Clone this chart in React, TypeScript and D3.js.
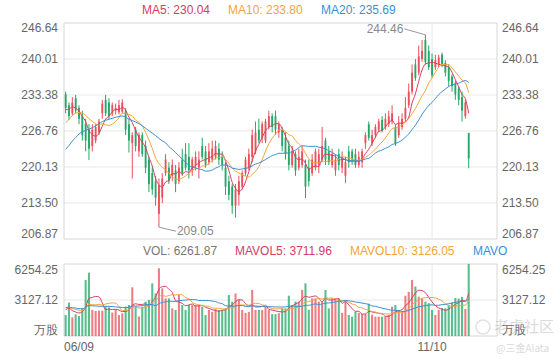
import React, { useEffect, useRef } from "react";
import * as d3 from "d3";

// daily k-line, 06/09 .. latest
const opens = [
  233.5, 231.5, 230, 232.8, 231, 229.5, 228, 227, 224, 225,
  226.5, 230, 232.5, 232, 230, 230.5, 230.2, 230.3, 230.5, 228,
  224.5, 227, 223, 226, 224, 221.5, 219, 217.5, 211.5, 214.5,
  219, 220, 218.5, 219.5, 217.5, 221.5, 222.5, 222, 219.5, 220.5,
  220, 224, 223, 221, 221.5, 222, 223.5, 222, 220, 217.5,
  216.5, 213, 215, 216.5, 219, 220, 222, 223, 227, 225.5,
  225, 227.5, 229.5, 229.5, 226.5, 227, 225.5, 224, 220.5, 222.5,
  220, 220.5, 220.5, 220, 219, 220, 220.5, 221.5, 225, 223,
  220.5, 219.5, 222.5, 220, 218.5, 223, 223, 222.5, 220.5, 221,
  224.5, 228, 224.5, 226, 227, 228.8, 227.5, 228, 228.5, 227.5,
  226, 227.5, 229, 231.5, 234, 239, 237.5, 240, 243.5, 241.5,
  240, 238.5, 239, 240.8, 239.3, 238.5, 236.8, 235.5, 234.5, 233,
  229.5, 226.4,
];
const highs = [
  234, 232, 233, 233.4, 231.5, 230.5, 229, 228, 228, 228,
  229, 232.5, 233.4, 232.8, 232, 231.8, 232.5, 232.6, 231, 229,
  226.5, 227.5, 226.5, 226.5, 225, 222, 220, 218.5, 218, 219,
  222.5, 221, 221.5, 220.5, 221, 223.5, 224.5, 224.5, 222, 223,
  223, 225.5, 224, 224.5, 225, 225, 224.5, 223, 221, 218.5,
  217, 217, 218.5, 219.5, 222, 223.5, 227, 228.5, 229, 228.5,
  229, 230.5, 230, 230.5, 228.5, 227.5, 226.5, 225, 224, 223,
  223.5, 224, 221.5, 221.5, 222.5, 223.5, 223.5, 227.5, 225.5, 224,
  223.5, 222.5, 223.5, 223, 222, 224, 223.5, 223.5, 223, 223.5,
  226.5, 228.5, 227, 228, 229, 229.5, 230, 230.5, 231.5, 228,
  229.5, 230, 233, 235.5, 239, 240, 242.5, 243.5, 244.46, 242.5,
  241, 240.8, 240.8, 241.2, 239.8, 239, 237.2, 236, 235, 234,
  232.5, 226.4,
];
const lows = [
  230, 228.8, 229.6, 230, 228, 225, 223, 221.4, 223, 224.5,
  226, 229, 229.5, 229, 229.5, 229.8, 229.8, 230, 226, 222.8,
  218, 223, 222, 222, 219, 215.5, 215, 213, 209.05, 213.5,
  218.5, 217, 217.5, 215.5, 217, 218.5, 219.5, 218, 218.5, 219.5,
  218, 221.5, 220, 220.5, 221, 221.5, 220.5, 219.5, 215, 214,
  211.5, 210.8, 213, 216, 218.5, 219.5, 221, 222.5, 224.5, 224.5,
  224.5, 227, 226.5, 226, 225.5, 223, 221.5, 219.5, 220, 218.5,
  219.5, 220, 214.4, 216.5, 218.5, 219.5, 219, 221, 220.5, 220.5,
  220, 218.5, 219.5, 219, 217.2, 220, 220.5, 220, 220, 220,
  223.5, 225, 224, 225.5, 226.5, 226.5, 227, 227.5, 228, 224,
  225.5, 227, 228.5, 231, 233.5, 236, 237, 239.5, 239, 238,
  236.5, 238, 238.5, 238.5, 236.8, 235, 234, 232.5, 231.5, 228.5,
  229, 219.9,
];
const closes = [
  231, 229.5, 232, 230.5, 229, 226, 225, 223.5, 227, 227.5,
  228.5, 231.8, 230, 229.5, 231.5, 231, 231.5, 232, 227, 225,
  226, 224, 226, 222.5, 220, 217, 216, 214.5, 216.8, 218,
  221.5, 217.5, 220.5, 217, 220, 219, 220, 219.5, 221.5, 222,
  221.5, 222, 220.5, 223, 223.5, 224, 221.5, 220.5, 216.5, 215,
  213, 216, 217.5, 219, 221.5, 222.5, 226, 226.5, 225, 228,
  228.5, 229.5, 227.5, 227, 228, 224, 222.5, 220.5, 223, 219.5,
  222, 223, 216.5, 217.5, 221.5, 223, 222.5, 224, 221.5, 221,
  222.5, 221.5, 220.5, 222, 221, 221, 221.5, 220.5, 222, 223,
  226, 225.5, 226, 227.5, 228.5, 226.8, 229, 229.5, 230, 224.5,
  228, 229, 231, 234, 237.5, 236.5, 240.5, 241.5, 239.5, 238.5,
  237, 239.8, 240.3, 239, 237.5, 236, 235, 233.5, 232.5, 230.5,
  232, 221.7,
];
// 万股
const volumes = [
  1820, 2900, 1620, 1880, 1740, 2400, 4860, 5500, 2260, 2170,
  2200, 2200, 2600, 2490, 2030, 2300, 1820, 1970, 2550, 2690,
  4230, 2550, 1700, 2550, 2980, 3130, 4570, 3700, 5880, 4140,
  3270, 3270, 2400, 2260, 3560, 2690, 2260, 2700, 2690, 2690,
  2690, 2550, 1820, 2260, 2100, 2330, 2260, 2260, 2400, 3560,
  2980, 3700, 3130, 2260, 2000, 2100, 4000, 2260, 2260, 2260,
  2550, 2270, 1900, 1900, 1980, 2400, 2400, 3500, 2700, 2990,
  2990, 4000, 4575, 2280, 3270, 3270, 2990, 2990, 4000, 2400,
  3270, 3270, 3270, 2000, 3130, 1820, 1680, 2100, 2000, 1900,
  1900, 2800, 1850, 1680, 1680, 1680, 1680, 1820, 2550, 2700,
  2260, 2130, 3500, 3830, 4860, 4300, 3415, 3270, 2990, 2850,
  2260, 1820, 2260.65, 2440, 2400, 2700, 2900, 3300, 3250, 3400,
  2347.95, 6261.87,
];
// sessions before 06/09, only feed the moving averages
const prevCloses = [
  215, 216, 217.5, 216, 218, 219, 220, 221.5, 220, 222,
  223, 225, 226, 228, 227, 229, 230, 231.5, 232,
];
const prevVolumes = [
  2400, 2700, 2300, 2900, 2600, 2200, 2500, 2800, 2400, 2600,
  2300, 2700, 2500, 2400, 2900, 2300, 2600, 2500, 2200,
];

const priceTicks = [206.87, 213.5, 220.13, 226.76, 233.38, 240.01, 246.64];
const volumeTicks = [0, 3127.12, 6254.25];
const dateTickIdx = [0, 110];
const dateTicks = ["06/09", "11/10"];
const maPeriods = [5, 10, 20];

const UP = "#e9505a";
const DOWN = "#22a867";
const MA_COLORS = ["#d3405f", "#f4a43c", "#3a8fd2"];
const GRID = "#e8e8e8";
const BORDER = "#d6d6d6";
const FONT = "'Liberation Sans', Arial, sans-serif";

function movingAvg(prev: number[], cur: number[], p: number) {
  const all = prev.concat(cur);
  const off = prev.length;
  return cur.map((_, i) => d3.mean(all.slice(off + i - p + 1, off + i + 1)) as number);
}

export default function App() {
  const ref: any = useRef();

  useEffect(() => {
    const svg = d3.select(ref.current);
    svg.selectAll("*").remove();

    const n = closes.length;
    const x = d3.scaleBand<number>().domain(d3.range(130)).range([64, 497]);
    const bw = x.bandwidth();
    const cx = (i: number) => (x(i) as number) + bw / 2;
    const y = d3.scaleLinear().domain([206.87, 246.64]).range([239, 23]);
    const yv = d3.scaleLinear().domain([0, 6254.25]).range([336, 264]);

    const txt = (g: any, tx: number, ty: number, s: string, color: string, anchor = "start", size = 12) =>
      g.append("text")
        .attr("x", tx)
        .attr("y", ty)
        .attr("dy", "0.35em")
        .attr("text-anchor", anchor)
        .attr("fill", color)
        .style("font-family", FONT)
        .style("font-size", `${size}px`)
        .text(s);

    // grids
    priceTicks.forEach((t, k) => {
      svg.append("line").attr("x1", 64).attr("x2", 497).attr("y1", y(t)).attr("y2", y(t))
        .attr("stroke", k === 0 || k === priceTicks.length - 1 ? BORDER : GRID);
      const off = k === 0 ? -5 : k === priceTicks.length - 1 ? 5 : 0;
      txt(svg, 58, y(t) + off, t.toFixed(2), "#666", "end");
      txt(svg, 502, y(t) + off, t.toFixed(2), "#666");
    });
    volumeTicks.forEach((t, k) => {
      svg.append("line").attr("x1", 64).attr("x2", 497).attr("y1", yv(t)).attr("y2", yv(t))
        .attr("stroke", k === 1 ? GRID : BORDER);
      const label = t === 0 ? "万股" : t.toFixed(2);
      const off = k === 0 ? -6 : k === volumeTicks.length - 1 ? 6 : 0;
      txt(svg, 58, yv(t) + off, label, "#666", "end");
      txt(svg, 502, yv(t) + off, label, "#666");
    });
    [[23, 239], [264, 336]].forEach(([a, b]) => {
      svg.append("line").attr("x1", 64).attr("x2", 64).attr("y1", a).attr("y2", b).attr("stroke", BORDER);
      svg.append("line").attr("x1", 497).attr("x2", 497).attr("y1", a).attr("y2", b).attr("stroke", BORDER);
      dateTickIdx.forEach((i) => {
        if (i === 0) return;
        svg.append("line").attr("x1", cx(i)).attr("x2", cx(i)).attr("y1", a).attr("y2", b).attr("stroke", GRID);
      });
    });
    dateTickIdx.forEach((i, k) => {
      txt(svg, i === 0 ? 64 : cx(i), 347, dateTicks[k], "#666", i === 0 ? "start" : "middle");
    });

    // volume bars
    const vw = bw * 0.62;
    svg.append("g").selectAll("rect").data(volumes).join("rect")
      .attr("x", (_: any, i: number) => cx(i) - vw / 2)
      .attr("width", vw)
      .attr("y", (d: number) => yv(d))
      .attr("height", (d: number) => yv(0) - yv(d))
      .attr("fill", (_: any, i: number) => (closes[i] >= opens[i] ? UP : DOWN))
      .attr("fill-opacity", 0.75);

    // candles
    const cg = svg.append("g");
    const bodyW = bw * 0.55;
    d3.range(n).forEach((i) => {
      const col = closes[i] >= opens[i] ? UP : DOWN;
      cg.append("line").attr("x1", cx(i)).attr("x2", cx(i))
        .attr("y1", y(highs[i])).attr("y2", y(lows[i]))
        .attr("stroke", col).attr("stroke-width", 1);
      const top = y(Math.max(opens[i], closes[i]));
      const h = Math.max(1, Math.abs(y(opens[i]) - y(closes[i])));
      cg.append("rect").attr("x", cx(i) - bodyW / 2).attr("width", bodyW)
        .attr("y", top).attr("height", h).attr("fill", col);
    });

    // moving averages
    const line = d3.line<number>().x((_, i) => cx(i)).curve(d3.curveMonotoneX);
    const maLast: number[] = [];
    maPeriods.forEach((p, k) => {
      const ma = movingAvg(prevCloses, closes, p);
      maLast.push(ma[ma.length - 1]);
      svg.append("path").datum(ma)
        .attr("d", line.y((d) => y(d)) as any)
        .attr("fill", "none").attr("stroke", MA_COLORS[k]).attr("stroke-width", 1);
    });
    const volLast: number[] = [];
    maPeriods.forEach((p, k) => {
      const ma = movingAvg(prevVolumes, volumes, p);
      volLast.push(ma[ma.length - 1]);
      svg.append("path").datum(ma)
        .attr("d", line.y((d) => yv(d)) as any)
        .attr("fill", "none").attr("stroke", MA_COLORS[k]).attr("stroke-width", 1);
    });

    // hi / lo marks
    const hiIdx = d3.maxIndex(highs);
    const loIdx = d3.minIndex(lows);
    const hx = cx(hiIdx), hy = y(highs[hiIdx]);
    svg.append("line").attr("x1", hx).attr("y1", hy).attr("x2", hx - 21).attr("y2", hy - 6)
      .attr("stroke", "#999");
    txt(svg, hx - 22, hy - 6, highs[hiIdx].toFixed(2), "#888", "end");
    const lx = cx(loIdx), ly = y(lows[loIdx]);
    svg.append("line").attr("x1", lx).attr("y1", ly).attr("x2", lx + 17).attr("y2", ly + 4)
      .attr("stroke", "#999");
    txt(svg, lx + 18, ly + 4, lows[loIdx].toFixed(2), "#888");

    // legends
    const maX = [142, 228, 321];
    maPeriods.forEach((p, k) => {
      txt(svg, maX[k], 10, `MA${p}: ${maLast[k].toFixed(2)}`, MA_COLORS[k]);
    });
    svg.append("clipPath").attr("id", "vclip").append("rect")
      .attr("x", 0).attr("y", 240).attr("width", 508).attr("height", 22);
    const vg = svg.append("g").attr("clip-path", "url(#vclip)");
    txt(vg, 143, 251, `VOL: ${volumes[n - 1].toFixed(2)}`, "#777");
    const volX = [235, 350, 473];
    maPeriods.forEach((p, k) => {
      txt(vg, volX[k], 251, `MAVOL${p}: ${volLast[k].toFixed(2)}`, MA_COLORS[k]);
    });

    // watermark
    const wm = svg.append("g").attr("opacity", 0.35);
    wm.append("circle").attr("cx", 483).attr("cy", 327).attr("r", 7)
      .attr("fill", "none").attr("stroke", "#aaa").attr("stroke-width", 1.5);
    txt(wm, 494, 327, "老虎社区", "#999", "start", 15).style("font-family", "'Noto Sans CJK SC', sans-serif");
    txt(wm, 496, 348, "@三金Alata", "#999", "start", 10).style("font-family", "'Noto Sans CJK SC', sans-serif");
  }, []);

  return (
    <svg
      ref={ref}
      width={560}
      height={360}
      style={{ position: "absolute", left: 0, top: 0, background: "#fff" }}
    />
  );
}
